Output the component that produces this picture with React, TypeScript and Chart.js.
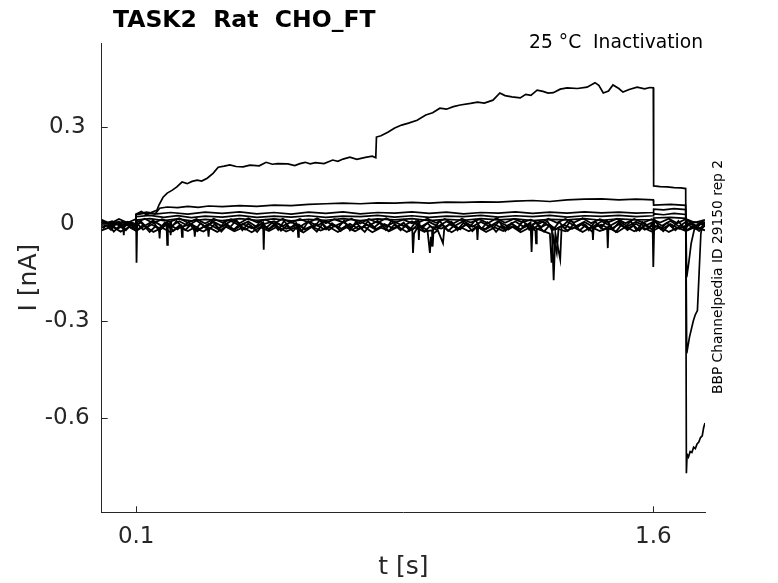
import { useEffect, useRef } from "react"
import { Chart, registerables } from "chart.js"

Chart.register(...registerables)

// chart texts
const titleText = "TASK2  Rat  CHO_FT"
const conditionText = "25 °C  Inactivation"
const sourceText = "BBP Channelpedia ID 29150 rep 2"
const xTitle = "t [s]"
const yTitle = "I [nA]"

// tick positions
const xTicks = [0.1, 1.6]
const yTicks = [0.3, 0, -0.3, -0.6]

// sweeps: [t (s), I (nA)]
const traceA: [number, number][] = [
  [0, 0.004], [0.02, -0.006], [0.04, 0.005], [0.06, -0.004], [0.08, 0.006], [0.099, -0.002],
  [0.1, 0.03], [0.115, 0.038], [0.13, 0.028], [0.145, 0.036], [0.16, 0.042], [0.166, 0.058],
  [0.178, 0.082], [0.19, 0.095], [0.205, 0.104], [0.218, 0.114], [0.233, 0.129], [0.248, 0.124],
  [0.262, 0.131], [0.277, 0.135], [0.29, 0.132], [0.306, 0.141], [0.323, 0.156], [0.338, 0.175],
  [0.355, 0.178], [0.372, 0.182], [0.39, 0.177], [0.41, 0.176], [0.43, 0.181], [0.457, 0.179],
  [0.477, 0.19], [0.495, 0.184], [0.51, 0.186], [0.54, 0.185], [0.56, 0.18], [0.575, 0.186],
  [0.59, 0.19], [0.605, 0.185], [0.62, 0.189], [0.645, 0.186], [0.67, 0.197], [0.685, 0.193],
  [0.7, 0.2], [0.72, 0.206], [0.74, 0.199], [0.765, 0.205], [0.785, 0.209], [0.795, 0.204],
  [0.797, 0.268], [0.81, 0.272], [0.83, 0.283], [0.85, 0.296], [0.87, 0.305], [0.89, 0.311],
  [0.915, 0.32], [0.94, 0.336], [0.96, 0.343], [0.981, 0.357], [1.0, 0.354], [1.02, 0.362],
  [1.04, 0.367], [1.07, 0.372], [1.09, 0.376], [1.11, 0.373], [1.135, 0.382], [1.155, 0.404],
  [1.17, 0.396], [1.19, 0.392], [1.214, 0.389], [1.23, 0.4], [1.245, 0.397], [1.263, 0.413],
  [1.28, 0.409], [1.295, 0.404], [1.31, 0.405], [1.33, 0.416], [1.35, 0.42], [1.38, 0.418],
  [1.408, 0.422], [1.431, 0.436], [1.442, 0.428], [1.455, 0.404], [1.47, 0.41], [1.483, 0.429],
  [1.5, 0.418], [1.512, 0.407], [1.53, 0.415], [1.553, 0.422], [1.575, 0.417], [1.59, 0.421],
  [1.6, 0.42], [1.601, 0.117], [1.62, 0.115], [1.64, 0.114], [1.66, 0.112], [1.68, 0.111],
  [1.694, 0.109], [1.696, -0.77], [1.698, -0.712], [1.702, -0.72], [1.707, -0.703], [1.712, -0.706],
  [1.717, -0.69], [1.722, -0.694], [1.727, -0.68], [1.732, -0.674], [1.737, -0.66], [1.742, -0.655],
  [1.746, -0.63], [1.75, -0.615],
]

const traceB: [number, number][] = [
  [0, -0.004], [0.025, 0.006], [0.05, -0.005], [0.075, 0.004], [0.099, 0.0], [0.1, 0.028],
  [0.13, 0.034], [0.155, 0.03], [0.168, 0.048], [0.19, 0.052], [0.22, 0.05], [0.25, 0.054],
  [0.28, 0.051], [0.31, 0.055], [0.35, 0.053], [0.4, 0.056], [0.45, 0.054], [0.5, 0.058],
  [0.55, 0.056], [0.6, 0.06], [0.65, 0.062], [0.7, 0.064], [0.75, 0.062], [0.8, 0.065],
  [0.85, 0.064], [0.9, 0.066], [0.95, 0.064], [1.0, 0.067], [1.05, 0.066], [1.1, 0.068],
  [1.15, 0.067], [1.2, 0.07], [1.25, 0.072], [1.3, 0.069], [1.35, 0.074], [1.4, 0.076],
  [1.45, 0.077], [1.5, 0.074], [1.55, 0.076], [1.6, 0.074], [1.601, 0.058], [1.65, 0.06],
  [1.694, 0.057], [1.697, -0.4], [1.705, -0.35], [1.716, -0.3], [1.722, -0.28], [1.728, -0.268],
  [1.733, -0.15], [1.738, -0.03], [1.744, 0.004], [1.75, -0.005],
]

const traceC: [number, number][] = [
  [0, 0.006], [0.03, -0.005], [0.06, 0.007], [0.085, -0.004], [0.099, 0.002], [0.1, 0.03],
  [0.13, 0.036], [0.16, 0.031], [0.2, 0.035], [0.25, 0.03], [0.3, 0.036], [0.35, 0.032],
  [0.4, 0.037], [0.45, 0.031], [0.5, 0.035], [0.55, 0.03], [0.6, 0.036], [0.65, 0.032],
  [0.7, 0.037], [0.75, 0.031], [0.8, 0.035], [0.85, 0.033], [0.9, 0.037], [0.95, 0.032],
  [1.0, 0.036], [1.05, 0.031], [1.1, 0.035], [1.15, 0.033], [1.2, 0.037], [1.25, 0.032],
  [1.3, 0.036], [1.35, 0.033], [1.4, 0.037], [1.45, 0.034], [1.5, 0.036], [1.55, 0.033],
  [1.6, 0.035], [1.601, 0.045], [1.63, 0.043], [1.66, 0.047], [1.694, 0.044], [1.697, -0.165],
  [1.703, -0.12], [1.71, -0.06], [1.72, -0.012], [1.735, 0.004], [1.75, -0.003],
]

const traceD: [number, number][] = [
  [0, -0.003], [0.03, 0.008], [0.06, -0.006], [0.085, 0.005], [0.099, -0.002], [0.1, 0.022],
  [0.14, 0.026], [0.18, 0.02], [0.22, 0.025], [0.26, 0.019], [0.3, 0.024], [0.35, 0.021],
  [0.4, 0.026], [0.45, 0.02], [0.5, 0.024], [0.55, 0.021], [0.6, 0.025], [0.65, 0.02],
  [0.7, 0.024], [0.75, 0.022], [0.8, 0.026], [0.85, 0.021], [0.9, 0.025], [0.95, 0.02],
  [1.0, 0.024], [1.05, 0.022], [1.1, 0.026], [1.15, 0.021], [1.2, 0.025], [1.25, 0.022],
  [1.3, 0.026], [1.35, 0.021], [1.4, 0.025], [1.45, 0.023], [1.5, 0.026], [1.55, 0.022],
  [1.6, 0.025], [1.601, 0.031], [1.63, 0.028], [1.66, 0.032], [1.694, 0.029], [1.697, 0.004],
  [1.72, -0.006], [1.75, 0.003],
]

const traceE: [number, number][] = [
  [0, 0.007], [0.035, -0.004], [0.07, 0.006], [0.099, -0.003], [0.1, 0.012], [0.14, 0.016],
  [0.18, 0.01], [0.22, 0.015], [0.26, 0.009], [0.3, 0.014], [0.35, 0.01], [0.4, 0.016],
  [0.45, 0.011], [0.5, 0.015], [0.55, 0.009], [0.6, 0.014], [0.65, 0.011], [0.7, 0.016],
  [0.75, 0.01], [0.8, 0.015], [0.85, 0.012], [0.9, 0.016], [0.95, 0.01], [1.0, 0.014],
  [1.05, 0.011], [1.1, 0.016], [1.15, 0.012], [1.2, 0.015], [1.25, 0.01], [1.3, 0.014],
  [1.35, 0.012], [1.4, 0.016], [1.45, 0.011], [1.5, 0.015], [1.55, 0.012], [1.6, 0.013],
  [1.601, 0.018], [1.65, 0.02], [1.694, 0.017], [1.697, -0.004], [1.72, 0.006], [1.75, -0.004],
]

const traceF: [number, number][] = [
  [0, 0.003], [0.025, -0.008], [0.05, 0.007], [0.062, -0.004], [0.064, -0.035], [0.066, -0.002],
  [0.075, 0.006], [0.098, -0.006], [0.1, -0.002], [0.101, -0.12], [0.103, 0.01], [0.125, -0.006],
  [0.15, 0.009], [0.175, -0.007], [0.188, 0.004], [0.19, -0.065], [0.192, 0.002], [0.2, -0.008],
  [0.225, 0.008], [0.25, -0.006], [0.275, 0.01], [0.3, -0.009], [0.325, 0.006], [0.35, -0.008],
  [0.375, 0.009], [0.4, -0.005], [0.425, 0.007], [0.45, -0.01], [0.468, 0.004], [0.47, -0.08],
  [0.472, 0.0], [0.5, 0.008], [0.525, -0.007], [0.55, 0.006], [0.575, -0.009], [0.6, 0.008],
  [0.625, -0.006], [0.65, 0.009], [0.675, -0.008], [0.7, 0.005], [0.725, -0.009], [0.75, 0.007],
  [0.775, -0.006], [0.8, 0.009], [0.825, -0.008], [0.85, 0.006], [0.875, -0.007], [0.9, 0.008],
  [0.925, -0.01], [0.95, 0.006], [0.975, -0.008], [1.0, 0.007], [1.025, -0.006], [1.05, 0.009],
  [1.075, -0.009], [1.1, 0.006], [1.125, -0.008], [1.15, 0.008], [1.175, -0.006], [1.2, 0.007],
  [1.225, -0.01], [1.244, 0.004], [1.247, -0.087], [1.25, -0.002], [1.275, 0.008], [1.3, -0.007],
  [1.306, -0.02], [1.311, -0.174], [1.316, -0.03], [1.33, -0.11], [1.334, -0.01], [1.35, 0.007],
  [1.375, -0.008], [1.4, 0.006], [1.425, -0.009], [1.45, 0.008], [1.475, -0.006], [1.5, 0.009],
  [1.525, -0.008], [1.55, 0.006], [1.575, -0.007], [1.598, 0.005], [1.6, -0.133], [1.603, 0.008],
  [1.625, -0.006], [1.65, 0.009], [1.675, -0.008], [1.7, 0.01], [1.725, -0.007], [1.75, 0.006],
]

const traceG: [number, number][] = [
  [0, -0.012], [0.02, 0.002], [0.045, -0.016], [0.07, -0.001], [0.09, -0.015], [0.1, 0.004],
  [0.12, -0.018], [0.145, -0.002], [0.166, -0.014], [0.168, -0.045], [0.17, -0.01], [0.195, -0.002],
  [0.22, -0.017], [0.231, -0.006], [0.233, -0.04], [0.235, -0.008], [0.26, -0.001], [0.285, -0.016],
  [0.31, 0.0], [0.335, -0.015], [0.36, -0.003], [0.385, -0.018], [0.41, -0.001], [0.435, -0.014],
  [0.46, -0.002], [0.485, -0.017], [0.51, 0.001], [0.535, -0.015], [0.568, -0.004], [0.57, -0.04],
  [0.572, -0.006], [0.595, -0.016], [0.62, -0.001], [0.645, -0.017], [0.67, -0.002], [0.695, -0.015],
  [0.72, 0.0], [0.745, -0.016], [0.77, -0.003], [0.795, -0.018], [0.82, -0.001], [0.845, -0.014],
  [0.87, -0.002], [0.895, -0.016], [0.901, -0.02], [0.903, -0.09], [0.906, -0.03], [0.92, -0.004],
  [0.945, -0.02], [0.952, -0.09], [0.955, -0.04], [0.958, -0.07], [0.962, -0.01], [0.985, -0.015],
  [1.01, -0.002], [1.035, -0.017], [1.06, -0.001], [1.088, -0.012], [1.09, -0.05], [1.092, -0.01],
  [1.115, -0.016], [1.14, -0.002], [1.165, -0.015], [1.19, 0.0], [1.215, -0.017], [1.24, -0.003],
  [1.265, -0.016], [1.29, -0.002], [1.315, -0.018], [1.34, -0.003], [1.365, -0.015], [1.39, -0.001],
  [1.415, -0.016], [1.423, -0.008], [1.425, -0.05], [1.427, -0.01], [1.45, -0.003], [1.475, -0.017],
  [1.5, -0.002], [1.525, -0.015], [1.55, 0.0], [1.575, -0.018], [1.6, -0.004], [1.625, -0.016],
  [1.65, -0.001], [1.675, -0.015], [1.7, -0.003], [1.725, -0.017], [1.75, -0.006],
]

const traceH: [number, number][] = [
  [0, -0.02], [0.03, -0.008], [0.055, -0.024], [0.08, -0.01], [0.1, -0.022], [0.125, -0.006],
  [0.15, -0.025], [0.175, -0.012], [0.2, -0.026], [0.225, -0.01], [0.25, -0.022], [0.268, -0.012],
  [0.27, -0.04], [0.272, -0.014], [0.295, -0.024], [0.308, -0.015], [0.31, -0.04], [0.312, -0.012],
  [0.335, -0.025], [0.36, -0.009], [0.385, -0.023], [0.41, -0.011], [0.435, -0.026], [0.46, -0.01],
  [0.485, -0.022], [0.51, -0.008], [0.535, -0.024], [0.56, -0.012], [0.585, -0.027], [0.61, -0.009],
  [0.635, -0.021], [0.66, -0.01], [0.685, -0.025], [0.71, -0.011], [0.735, -0.023], [0.76, -0.008],
  [0.785, -0.026], [0.81, -0.012], [0.835, -0.022], [0.86, -0.009], [0.885, -0.025], [0.91, -0.012],
  [0.935, -0.024], [0.958, -0.02], [0.96, -0.07], [0.962, -0.03], [0.975, -0.02], [0.99, -0.06],
  [0.994, -0.012], [1.015, -0.026], [1.04, -0.01], [1.065, -0.023], [1.09, -0.009], [1.115, -0.025],
  [1.14, -0.011], [1.165, -0.022], [1.19, -0.008], [1.215, -0.026], [1.24, -0.012], [1.258, -0.02],
  [1.26, -0.06], [1.262, -0.015], [1.285, -0.024], [1.3, -0.03], [1.305, -0.12], [1.31, -0.04],
  [1.32, -0.09], [1.325, -0.016], [1.345, -0.023], [1.37, -0.011], [1.395, -0.025], [1.42, -0.01],
  [1.445, -0.022], [1.466, -0.014], [1.468, -0.075], [1.47, -0.012], [1.495, -0.026], [1.52, -0.009],
  [1.545, -0.023], [1.57, -0.011], [1.595, -0.024], [1.62, -0.01], [1.645, -0.025], [1.67, -0.012],
  [1.695, -0.022], [1.72, -0.01], [1.75, -0.02],
]

const traceJ: [number, number][] = [
  [0, 0.012], [0.025, 0.001], [0.05, 0.015], [0.075, 0.003], [0.098, 0.014], [0.1, 0.004],
  [0.125, 0.016], [0.15, 0.002], [0.175, 0.014], [0.198, 0.006], [0.2, -0.035], [0.202, 0.008],
  [0.225, 0.017], [0.25, 0.003], [0.275, 0.015], [0.3, 0.001], [0.325, 0.016], [0.35, 0.004],
  [0.375, 0.014], [0.4, 0.002], [0.425, 0.017], [0.45, 0.005], [0.475, 0.013], [0.5, 0.001],
  [0.525, 0.016], [0.55, 0.003], [0.575, 0.015], [0.6, 0.004], [0.625, 0.017], [0.65, 0.002],
  [0.675, 0.014], [0.7, 0.005], [0.725, 0.016], [0.75, 0.001], [0.775, 0.015], [0.8, 0.003],
  [0.825, 0.017], [0.85, 0.004], [0.875, 0.013], [0.9, 0.002], [0.918, 0.01], [0.92, -0.05],
  [0.922, 0.006], [0.945, 0.016], [0.97, 0.003], [0.995, 0.015], [1.02, 0.001], [1.045, 0.016],
  [1.07, 0.004], [1.095, 0.014], [1.12, 0.002], [1.145, 0.017], [1.17, 0.003], [1.195, 0.015],
  [1.22, 0.005], [1.245, 0.013], [1.27, 0.001], [1.295, 0.016], [1.32, 0.003], [1.345, 0.015],
  [1.37, 0.004], [1.395, 0.017], [1.42, 0.002], [1.445, 0.014], [1.47, 0.005], [1.495, 0.016],
  [1.52, 0.002], [1.545, 0.015], [1.57, 0.003], [1.595, 0.014], [1.62, 0.004], [1.645, 0.016],
  [1.67, 0.002], [1.695, 0.015], [1.72, 0.004], [1.75, 0.012],
]

const traceK: [number, number][] = [
  [0.01, -0.002], [0.027, -0.019], [0.044, 0.006], [0.061, -0.014], [0.079, 0.003], [0.096, -0.017],
  [0.113, 0.008], [0.131, -0.012], [0.148, 0.011], [0.165, -0.02], [0.183, 0.004], [0.2, -0.015],
  [0.217, 0.009], [0.235, -0.011], [0.252, 0.006], [0.269, -0.021], [0.287, 0.002], [0.304, -0.013],
  [0.321, 0.01], [0.339, -0.018], [0.356, 0.005], [0.373, -0.01], [0.391, 0.012], [0.408, -0.02],
  [0.425, 0.001], [0.443, -0.016], [0.46, 0.008], [0.477, -0.012], [0.495, 0.004], [0.512, -0.019],
  [0.529, 0.009], [0.547, -0.014], [0.564, 0.003], [0.581, -0.022], [0.599, 0.007], [0.616, -0.011],
  [0.633, 0.012], [0.651, -0.017], [0.668, 0.002], [0.685, -0.013], [0.703, 0.01], [0.72, -0.02],
  [0.737, 0.005], [0.755, -0.015], [0.772, 0.008], [0.789, -0.012], [0.807, 0.003], [0.824, -0.019],
  [0.841, 0.011], [0.859, -0.01], [0.876, 0.004], [0.893, -0.021], [0.911, 0.007], [0.928, -0.014],
  [0.945, 0.002], [0.963, -0.017], [0.98, 0.009], [0.997, -0.012], [1.015, 0.006], [1.032, -0.02],
  [1.049, 0.003], [1.067, -0.011], [1.084, 0.012], [1.101, -0.016], [1.119, 0.005], [1.136, -0.013],
  [1.153, 0.008], [1.171, -0.022], [1.188, 0.002], [1.205, -0.014], [1.223, 0.01], [1.24, -0.018],
  [1.257, 0.004], [1.275, -0.01], [1.292, 0.009], [1.309, -0.019], [1.327, 0.006], [1.344, -0.015],
  [1.361, 0.011], [1.379, -0.012], [1.396, 0.003], [1.413, -0.02], [1.431, 0.007], [1.448, -0.013],
  [1.465, 0.01], [1.483, -0.017], [1.5, 0.004], [1.517, -0.011], [1.535, 0.008], [1.552, -0.021],
  [1.569, 0.005], [1.587, -0.014], [1.604, 0.012], [1.621, -0.016], [1.639, 0.003], [1.656, -0.012],
  [1.673, 0.009], [1.691, -0.019], [1.708, 0.006], [1.725, -0.015], [1.743, 0.008], [1.75, -0.004],
]

const traceL: [number, number][] = [
  [0.004, -0.015], [0.018, 0.001], [0.035, -0.024], [0.052, -0.006], [0.07, -0.02], [0.087, 0.0],
  [0.104, -0.018], [0.121, -0.003], [0.139, -0.025], [0.156, -0.008], [0.173, -0.016], [0.191, 0.002],
  [0.208, -0.022], [0.225, -0.005], [0.243, -0.019], [0.26, -0.001], [0.277, -0.023], [0.295, -0.009],
  [0.312, -0.017], [0.329, 0.0], [0.347, -0.024], [0.364, -0.004], [0.381, -0.02], [0.399, -0.002],
  [0.416, -0.018], [0.433, -0.007], [0.451, -0.025], [0.468, -0.003], [0.485, -0.016], [0.503, 0.001],
  [0.52, -0.021], [0.537, -0.006], [0.555, -0.023], [0.572, -0.002], [0.589, -0.017], [0.607, -0.008],
  [0.624, -0.024], [0.641, 0.0], [0.659, -0.019], [0.676, -0.005], [0.693, -0.022], [0.711, -0.003],
  [0.728, -0.018], [0.745, -0.007], [0.763, -0.025], [0.78, -0.001], [0.797, -0.016], [0.815, -0.006],
  [0.832, -0.023], [0.849, -0.002], [0.867, -0.02], [0.884, -0.004], [0.901, -0.018], [0.919, 0.0],
  [0.936, -0.024], [0.953, -0.007], [0.971, -0.019], [0.988, -0.003], [1.005, -0.022], [1.023, -0.005],
  [1.04, -0.017], [1.057, 0.001], [1.075, -0.023], [1.092, -0.006], [1.109, -0.02], [1.127, -0.002],
  [1.144, -0.025], [1.161, -0.004], [1.179, -0.018], [1.196, -0.007], [1.213, -0.021], [1.231, 0.0],
  [1.248, -0.019], [1.265, -0.005], [1.283, -0.024], [1.3, -0.003], [1.317, -0.017], [1.335, -0.006],
  [1.352, -0.022], [1.369, -0.001], [1.387, -0.02], [1.404, -0.004], [1.421, -0.023], [1.439, -0.002],
  [1.456, -0.018], [1.473, -0.007], [1.491, -0.025], [1.508, -0.003], [1.525, -0.019], [1.543, -0.005],
  [1.56, -0.021], [1.577, 0.0], [1.595, -0.017], [1.612, -0.006], [1.629, -0.023], [1.647, -0.002],
  [1.664, -0.02], [1.681, -0.004], [1.699, -0.018], [1.716, -0.007], [1.733, -0.022], [1.75, -0.005],
]

const baselineSweeps = [traceF, traceG, traceH, traceJ, traceK, traceL]
const stepSweeps = [traceE, traceD, traceC, traceB, traceA]

const AXIS_COLOR = "#262626"
const FONT = "'DejaVu Sans', sans-serif"

const decorPlugin = {
  id: "decor",
  afterDraw(chart: any) {
    const { ctx, chartArea, scales } = chart
    ctx.save()
    // inward tick marks, MATLAB style
    ctx.strokeStyle = AXIS_COLOR
    ctx.lineWidth = 1
    ctx.beginPath()
    yTicks.forEach((v) => {
      const py = Math.round(scales.y.getPixelForValue(v)) + 0.5
      ctx.moveTo(chartArea.left, py)
      ctx.lineTo(chartArea.left + 6, py)
    })
    xTicks.forEach((v) => {
      const px = Math.round(scales.x.getPixelForValue(v)) + 0.5
      ctx.moveTo(px, chartArea.bottom)
      ctx.lineTo(px, chartArea.bottom - 6)
    })
    ctx.stroke()

    ctx.fillStyle = "#000"
    ctx.textBaseline = "alphabetic"
    ctx.font = `bold 23.5px ${FONT}`
    ctx.textAlign = "left"
    ctx.fillText(titleText, 113, 27)

    ctx.font = `18.7px ${FONT}`
    ctx.textAlign = "right"
    ctx.fillText(conditionText, 703, 48)

    ctx.translate(722, 277)
    ctx.rotate(-Math.PI / 2)
    ctx.font = `13.8px ${FONT}`
    ctx.textAlign = "center"
    ctx.fillText(sourceText, 0, 0)
    ctx.restore()
  },
}

const toDataset = (s: [number, number][], width: number) => ({
  data: s.map(([x, y]) => ({ x, y })),
  borderColor: "#000",
  borderWidth: width,
  pointRadius: 0,
  tension: 0,
  fill: false,
})

export default function App() {
  const canvasRef = useRef<HTMLCanvasElement>(null)

  useEffect(() => {
    document.body.style.margin = "0"
    if (!canvasRef.current) return
    const chart = new Chart(canvasRef.current, {
      type: "line",
      data: {
        datasets: [
          ...baselineSweeps.map((s) => toDataset(s, 1.8)),
          ...stepSweeps.map((s) => toDataset(s, 1.7)),
        ],
      },
      options: {
        animation: false,
        responsive: true,
        maintainAspectRatio: false,
        events: [],
        layout: { padding: { left: 0, top: 43, right: 73, bottom: 0 } },
        plugins: {
          legend: { display: false },
          tooltip: { enabled: false },
          title: { display: false },
        },
        scales: {
          x: {
            type: "linear",
            min: 0,
            max: 1.75,
            grid: { display: false, drawTicks: false },
            border: { display: true, color: AXIS_COLOR, width: 1 },
            afterBuildTicks: (s: any) => {
              s.ticks = xTicks.map((value) => ({ value }))
            },
            afterFit: (s: any) => {
              s.height = 70.7
            },
            ticks: {
              color: AXIS_COLOR,
              font: { family: FONT, size: 23 },
              padding: 11,
              maxRotation: 0,
              callback: (v: any) => String(v),
            },
            title: {
              display: true,
              text: xTitle,
              color: AXIS_COLOR,
              font: { family: FONT, size: 25 },
              padding: { top: 0, bottom: 1 },
            },
          },
          y: {
            type: "linear",
            min: -0.891,
            max: 0.5585,
            grid: { display: false, drawTicks: false },
            border: { display: true, color: AXIS_COLOR, width: 1 },
            afterBuildTicks: (s: any) => {
              s.ticks = yTicks.map((value) => ({ value }))
            },
            afterFit: (s: any) => {
              s.width = 101.7
            },
            ticks: {
              color: AXIS_COLOR,
              font: { family: FONT, size: 23 },
              padding: 12,
              crossAlign: "center",
              callback: (v: any) => String(v),
            },
            title: {
              display: true,
              text: yTitle,
              color: AXIS_COLOR,
              font: { family: FONT, size: 25 },
              padding: { top: 14, bottom: 0 },
            },
          },
        },
      },
      plugins: [decorPlugin],
    } as any)
    return () => chart.destroy()
  }, [])

  return (
    <div style={{ position: "relative", width: 778, height: 583 }}>
      <canvas ref={canvasRef} />
    </div>
  )
}
